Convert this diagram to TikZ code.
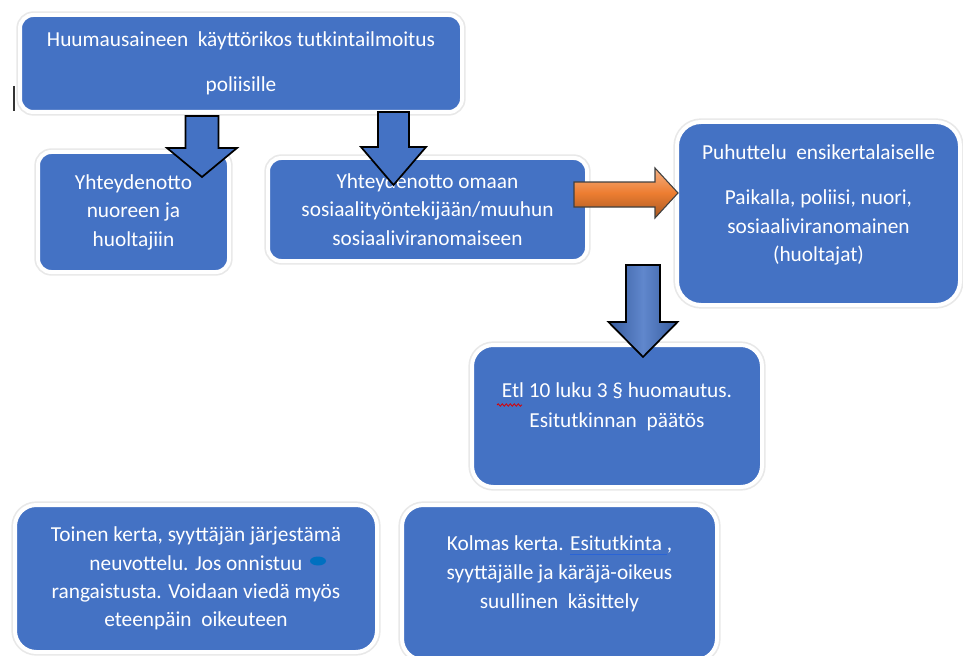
\documentclass[tikz,border=0pt]{standalone}
\usepackage{fontspec}
\setmainfont{Carlito}
\definecolor{boxblue}{HTML}{4472C4}
\definecolor{arrowblue}{HTML}{4472C4}
\definecolor{arroworange}{HTML}{ED7D31}
\definecolor{markblue}{HTML}{0070C0}
\definecolor{lineblue}{HTML}{2A64D6}
\tikzstyle{every node}+=[text=white,align=center,font=\fontsize{16}{21.4}\selectfont]
\tikzstyle{stepbox}=[rectangle,rounded corners=10pt,fill=boxblue,draw=white,line width=3pt,
	preaction={draw=black!9,line width=5.5pt}]
\tikzstyle{blockarrow}=[fill=arrowblue,draw=black,line width=1.3pt,line join=miter]
\usetikzlibrary{decorations.pathmorphing}
\tikzset{boxsize/.style 2 args={minimum width=#1*0.75pt,minimum height=#2*0.75pt}}
% extra depth below the last line, lifts the text a bit
\newcommand{\dropdepth}[1]{\rule[-#1]{0pt}{#1}}
\newcommand{\bluline}[1]{\setbox0\hbox{#1}\rlap{\color{lineblue}\rule[-3pt]{\wd0}{0.9pt}}\box0}
% down arrows: x/top/base/tip/shaft half/head half
\newcommand{\downarrows}[2][\empty]{
	\foreach \c/\t/\b/\p/\s/\h in {#2}{
		\draw[blockarrow,#1] (\c-\s,\t) -- (\c+\s,\t) -- (\c+\s,\b) -- (\c+\h,\b)
			-- (\c,\p) -- (\c-\h,\b) -- (\c-\s,\b) -- cycle;
	}
}

\begin{document}
\begin{tikzpicture}[x=0.75pt,y=-0.75pt]
\useasboundingbox (0,0) rectangle (963,656);

\node[stepbox,boxsize={442}{97},font=\fontsize{16}{33.75}\selectfont] (report) at (241,63.5)
	{Huumausaineen\ \ käyttörikos tutkintailmoitus\\poliisille};
\node[stepbox,boxsize={191}{120}] (contact) at (133.5,212) {Yhteydenotto\\nuoreen ja\\huoltajiin};
\node[stepbox,boxsize={319}{103}] (social) at (427.5,209.5)
	{Yhteydenotto omaan\\sosiaalityöntekijään/muuhun\\sosiaaliviranomaiseen};
\node[stepbox,rounded corners=18pt,boxsize={283}{183}] (talk) at (818.5,213.5)
	{Puhuttelu\ \ ensikertalaiselle\\[12.3pt]Paikalla, poliisi, nuori,\\sosiaaliviranomainen\\(huoltajat)\dropdepth{15pt}};
\node[stepbox,rounded corners=16pt,boxsize={290}{142},font=\fontsize{16}{22.5}\selectfont] (notice) at (617,416)
	{Etl 10 luku 3 § huomautus.\\Esitutkinnan\ \ päätös\dropdepth{16pt}};
\node[stepbox,rounded corners=16pt,boxsize={362}{147},font=\fontsize{16}{21.2}\selectfont] (second) at (196,578.5)
	{Toinen kerta, syyttäjän järjestämä\\neuvottelu. Jos onnistuu\hspace{22pt}\\rangaistusta. Voidaan viedä myös\\eteenpäin\ \ oikeuteen};
\node[stepbox,rounded corners=16pt,boxsize={315}{155},font=\fontsize{16}{21.75}\selectfont] (third) at (559.5,582.5)
	{Kolmas kerta. \bluline{Esitutkinta\ },\\syyttäjälle ja käräjä-oikeus\\suullinen\ \ käsittely\dropdepth{15pt}};

% marks inside the text
\fill[markblue] (318,561) ellipse [x radius=8,y radius=4.5];
\draw[red!85!black,line width=0.6pt,decorate,decoration={snake,amplitude=0.9pt,segment length=3pt}]
	(497,405) -- (522,405);
\draw[black!80,line width=0.8pt] (14,86) -- (14,111);

\downarrows{202/116/148/177/16.5/35,393.5/112/147/185/15.5/32.5}
\downarrows[left color=arrowblue!80!black,right color=arrowblue!80!black,middle color=arrowblue!85!white]{643/265/322/357/17/34.5}

\draw[draw=black!75,line width=0.8pt,top color=arroworange!60!white,bottom color=arroworange!70!black,middle color=arroworange]
	(574,182) -- (655,182) -- (655,168) -- (678,193) -- (655,218) -- (655,207) -- (574,207) -- cycle;

\end{tikzpicture}
\end{document}
